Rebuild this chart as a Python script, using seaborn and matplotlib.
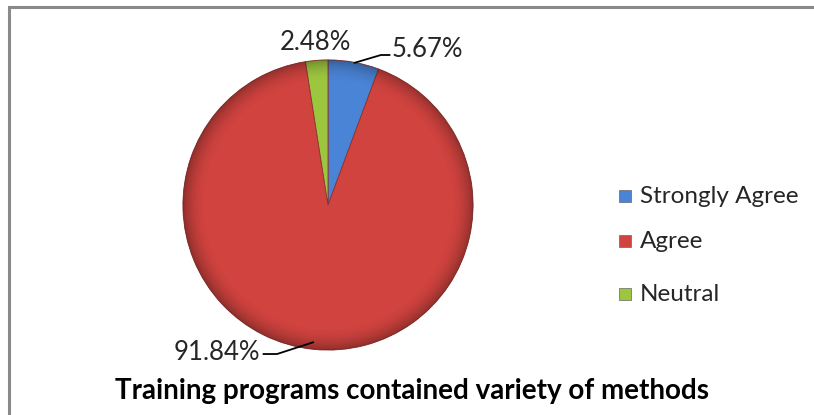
import numpy as np
import matplotlib
matplotlib.use("Agg")
import matplotlib.pyplot as plt
import seaborn as sns
from matplotlib.patches import Rectangle, Circle

categories = ["Strongly Agree", "Agree", "Neutral"]
shares = [5.67, 91.84, 2.48]
share_labels = ["5.67%", "91.84%", "2.48%"]
colors = ["#4A84D6", "#D0433F", "#9DC63F"]
title = "Training programs contained variety of methods"

sns.set_theme(style="white")
plt.rcParams["font.family"] = ["Lato", "DejaVu Sans"]

W, H = 814, 415
fig = plt.figure(figsize=(W / 100, H / 100), dpi=100)
fig.patch.set_facecolor("white")

# outer chart frame
fig.patches.append(Rectangle((9 / W, -0.05), 1.2, 1 - 7 / H + 0.05,
                             transform=fig.transFigure, fill=False,
                             edgecolor="#8a8a8a", linewidth=2.2))

cx, cy, r = 328, 205, 148
ax = fig.add_axes([(cx - r) / W, (H - cy - r) / H, 2 * r / W, 2 * r / H])
wedges, _ = ax.pie(shares, colors=colors, startangle=90, counterclock=False,
                   radius=1.0, wedgeprops=dict(linewidth=0.6, edgecolor="#8a3330"))
ax.set_xlim(-1.02, 1.02)
ax.set_ylim(-1.02, 1.02)
ax.set_aspect("equal")
ax.axis("off")

# soft rim shading
n = 400
g = np.linspace(-1, 1, n)
X, Y = np.meshgrid(g, g)
R = np.sqrt(X ** 2 + Y ** 2)
shade = np.zeros((n, n, 4))
shade[..., 3] = np.clip((R - 0.84) / 0.16, 0, 1) ** 2 * 0.3
im = ax.imshow(shade, extent=(-1, 1, -1, 1), origin="lower", zorder=3)
im.set_clip_path(Circle((0, 0), 1.0, transform=ax.transData))


def to_data(px, py):
    return (px - cx) / r, (cy - py) / r


lab_kw = dict(fontsize=18.5, color="#262626", clip_on=False)
# 5.67%
p0, p1, p2 = to_data(355, 60), to_data(382, 52), to_data(391, 52)
ax.plot([p0[0], p1[0], p2[0]], [p0[1], p1[1], p2[1]], color="black", lw=1.3, clip_on=False)
ax.text(*to_data(393, 46), share_labels[0], ha="left", va="center", **lab_kw)
# 2.48%
ax.text(*to_data(315, 39), share_labels[2], ha="center", va="center", **lab_kw)
# 91.84%
q0, q1, q2 = to_data(313, 345), to_data(276, 357), to_data(262, 357)
ax.plot([q0[0], q1[0], q2[0]], [q0[1], q1[1], q2[1]], color="black", lw=1.3, clip_on=False)
ax.text(*to_data(259, 355), share_labels[1], ha="right", va="center", **lab_kw)

# legend
leg_y = [196, 241, 294]
for cat, col, y in zip(categories, colors, leg_y):
    fig.patches.append(Rectangle((619 / W, (H - y - 6) / H), 12 / W, 12 / H,
                                 transform=fig.transFigure, facecolor=col,
                                 edgecolor="#666666", linewidth=0.5))
    fig.text(640 / W, (H - y) / H, cat, ha="left", va="center",
             fontsize=17.5, color="#262626")

fig.text(412 / W, (H - 391) / H, title, ha="center", va="center",
         fontsize=20, fontweight="bold", color="black")

fig.savefig("out.png", dpi=100, facecolor="white")
